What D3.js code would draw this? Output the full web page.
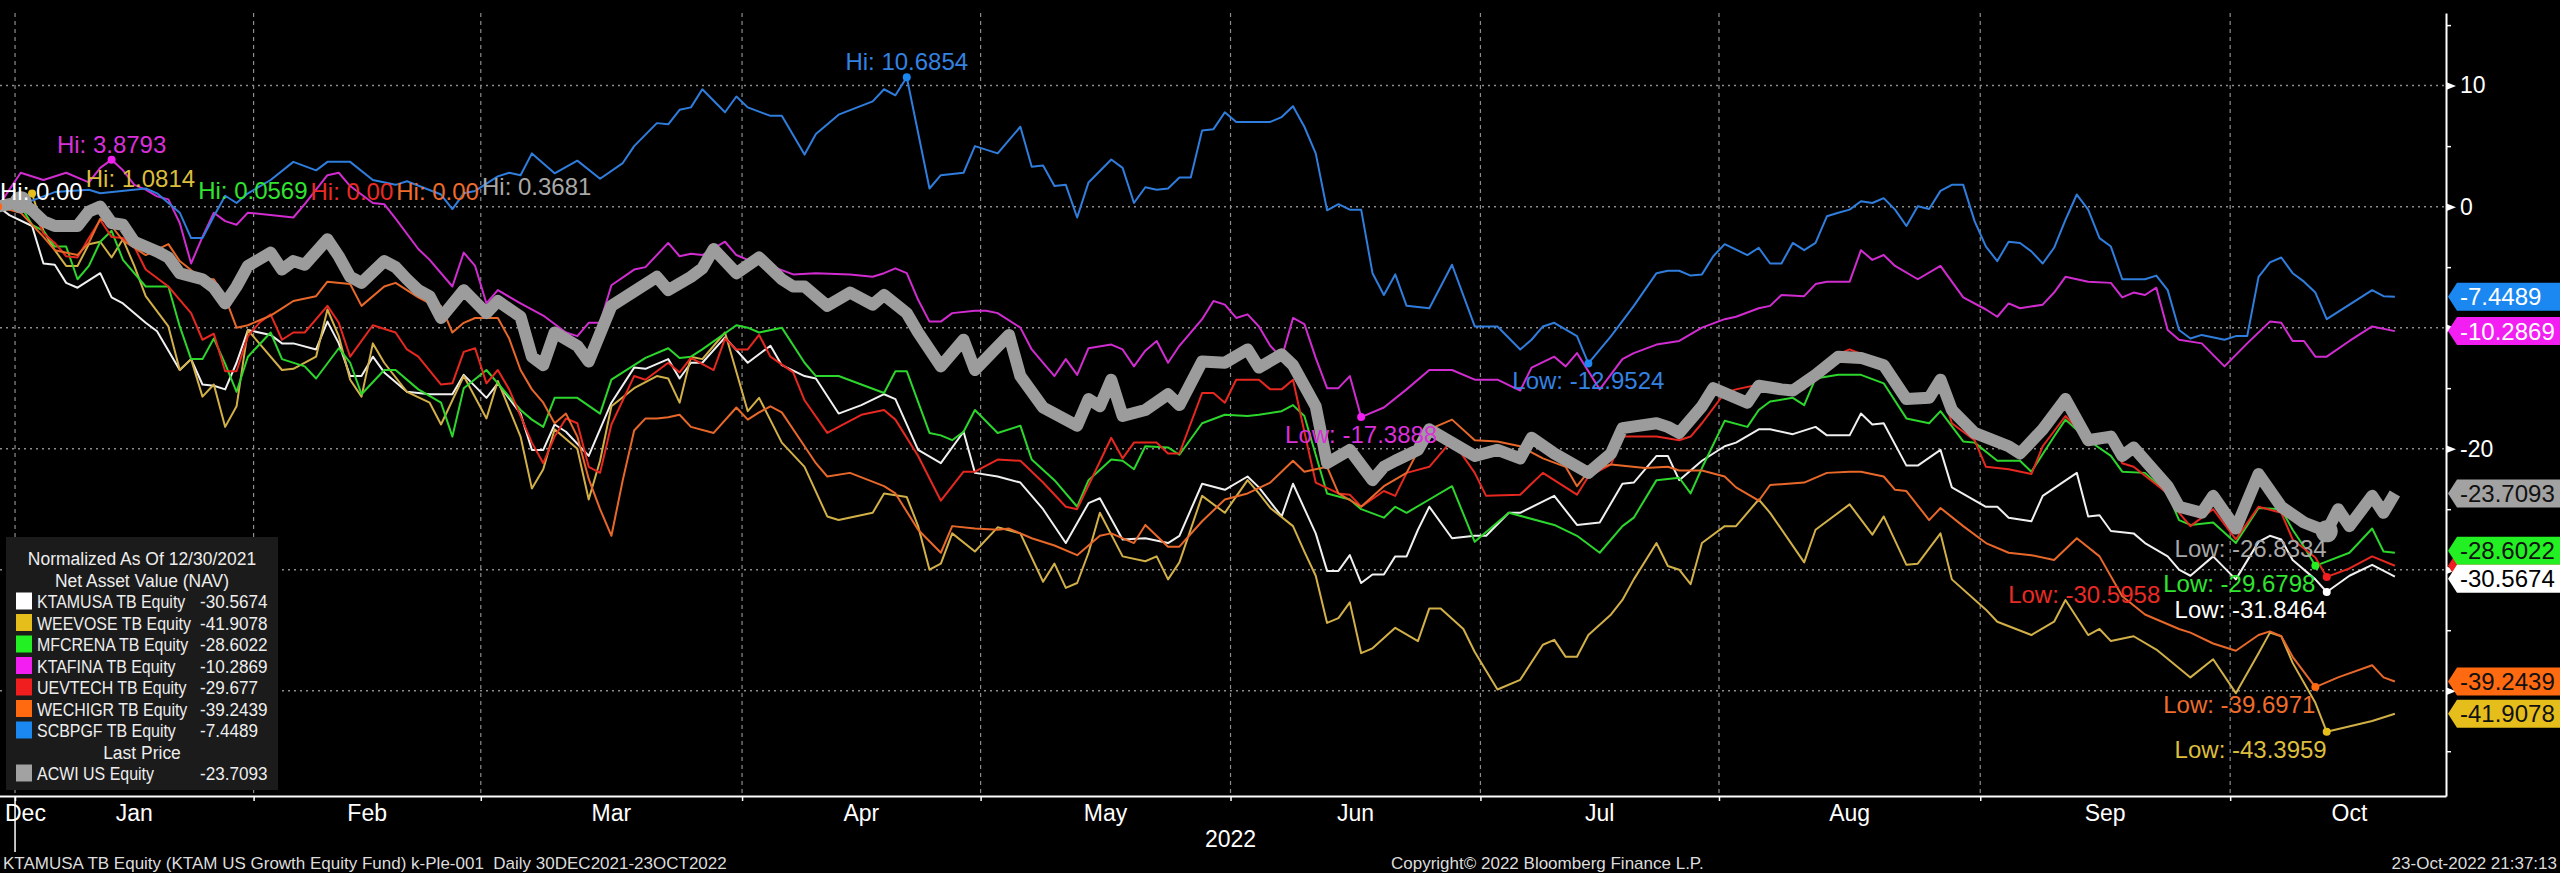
<!DOCTYPE html>
<html>
<head>
<meta charset="utf-8">
<script src="https://cdn.jsdelivr.net/npm/d3@7"></script>
<style>
  html, body { margin: 0; padding: 0; background: #000; }
  svg { display: block; }
  text { font-family: "Liberation Sans", Arial, sans-serif; }
</style>
</head>
<body>
<svg id="chart" width="2560" height="873"></svg>
<script>
// day = trading day (weekdays) counted from 30 Dec 2021 = 0
var monthNames = ['Dec', 'Jan', 'Feb', 'Mar', 'Apr', 'May', 'Jun', 'Jul', 'Aug', 'Sep', 'Oct'];
var monthStart = [-21, 2, 23, 43, 66, 87, 109, 131, 152, 175, 197, 218];
var yMajor = [10, 0, -10, -20, -30, -40];
var yMinor = [15, 5, -5, -15, -25, -35, -45];

var seriesNames = ['KTAMUSA TB Equity', 'WEEVOSE TB Equity', 'MFCRENA TB Equity', 'KTAFINA TB Equity',
  'UEVTECH TB Equity', 'WECHIGR TB Equity', 'SCBPGF TB Equity', 'ACWI US Equity'];
var lastVals = [-30.5674, -41.9078, -28.6022, -10.2869, -29.677, -39.2439, -7.4489, -23.7093];
var hiVals = [0, 1.0814, 0.0569, 3.8793, 0, 0, 10.6854, 0.3681];
var loVals = [-31.8464, -43.3959, -29.6798, -17.3888, -30.5958, -39.6971, -12.9524, -26.8334];

var ktamusa = [[0,0],[1,-0.7],[3,-1.6],[4,-4.7],[5,-4.8],[6,-6.3],[7,-6.7],[9,-5.5],[10,-7.5],[11,-8.0],[13,-9.6],[14,-10.3],[16,-13.5],[17,-12.6],[18,-14.7],[19,-14.8],[20,-15.1],[21,-12.9],[22,-10.2],[24,-10.6],[25,-11.3],[26,-11.3],[28,-11.8],[29,-9.5],[30,-11.3],[31,-14.0],[32,-14.0],[33,-12.4],[34,-13.7],[36,-15.3],[38,-15.5],[40,-15.5],[41,-13.9],[43,-15.8],[44,-14.6],[46,-17.1],[47,-20.1],[48,-20.1],[49,-18.0],[50,-18.6],[52,-20.6],[54,-16.2],[56,-13.3],[57,-13.4],[59,-12.6],[60,-14.2],[61,-12.9],[62,-12.9],[64,-10.8],[66,-12.9],[68,-11.5],[69,-13.1],[71,-14.0],[72,-14.2],[74,-17.1],[76,-16.4],[78,-15.5],[79,-15.9],[81,-20.1],[83,-21.2],[85,-18.6],[86,-22.0],[88,-22.3],[90,-22.8],[92,-25.0],[94,-27.8],[96,-24.5],[97,-24.1],[99,-27.5],[101,-27.4],[103,-27.8],[104,-27.2],[106,-22.9],[108,-23.4],[110,-22.3],[111,-23.2],[113,-25.6],[114,-22.9],[116,-27.0],[117,-30.1],[118,-30.1],[119,-28.8],[120,-31.1],[121,-30.4],[122,-30.4],[123,-28.9],[124,-28.9],[125,-26.7],[126,-24.8],[128,-27.4],[130,-27.2],[131,-27.2],[133,-25.3],[134,-25.3],[137,-23.9],[139,-26.3],[141,-26.1],[143,-22.9],[144,-22.8],[146,-20.6],[147,-20.6],[148,-22.6],[150,-21.0],[152,-19.8],[153,-19.5],[155,-18.4],[156,-18.4],[158,-18.8],[160,-18.2],[161,-18.9],[163,-18.9],[164,-17.1],[165,-18.0],[166,-17.9],[168,-21.4],[169,-21.4],[171,-20.1],[172,-23.2],[175,-24.8],[176,-24.8],[177,-25.7],[179,-26.0],[180,-23.9],[183,-22.0],[184,-25.6],[185,-25.5],[186,-26.8],[188,-27.0],[189,-27.8],[191,-28.9],[192,-30.0],[193,-30.5],[195,-28.9],[197,-30.8],[199,-27.7],[200,-27.2],[201,-27.5],[202,-29.2],[204,-30.8],[205,-31.8464],[207,-30.5],[209,-29.6],[211,-30.5674]];

var weevose = [[0,0],[2,0.4],[3,1.0814],[4,-2.0],[5,-3.6],[6,-4.9],[7,-4.9],[8,-3.1],[9,-2.9],[10,-4.2],[11,-2.7],[12,-4.9],[13,-7.4],[15,-9.9],[16,-13.5],[17,-12.6],[18,-15.7],[19,-14.7],[20,-18.2],[21,-16.5],[22,-10.2],[23,-11.3],[25,-13.5],[26,-13.4],[28,-12.4],[29,-8.5],[30,-10.7],[31,-14.3],[32,-15.7],[33,-11.3],[34,-12.9],[36,-15.3],[38,-16.2],[39,-18.0],[41,-14.0],[43,-17.5],[44,-14.4],[46,-19.0],[47,-23.3],[48,-21.7],[49,-18.4],[51,-20.0],[52,-24.2],[53,-21.0],[54,-16.5],[56,-15.0],[58,-14.0],[59,-14.2],[60,-16.2],[61,-12.4],[62,-12.6],[64,-10.4],[66,-16.9],[67,-15.8],[69,-19.5],[71,-21.5],[73,-25.6],[74,-25.9],[77,-25.3],[78,-23.7],[80,-24.0],[81,-26.4],[82,-30.0],[83,-29.5],[84,-27.0],[86,-28.5],[88,-26.5],[90,-27.0],[92,-31.0],[93,-29.5],[94,-31.5],[95,-31.1],[96,-28.6],[97,-25.3],[99,-28.9],[101,-29.3],[102,-28.9],[103,-30.8],[104,-29.4],[106,-23.9],[108,-25.3],[110,-22.6],[111,-23.7],[112,-24.9],[114,-26.4],[115,-28.5],[116,-30.5],[117,-34.4],[118,-34.0],[119,-32.7],[120,-36.9],[121,-36.5],[123,-34.8],[125,-35.9],[126,-33.2],[127,-33.2],[129,-34.9],[130,-36.8],[132,-39.9],[134,-39.1],[136,-36.2],[137,-35.8],[138,-37.2],[139,-37.2],[140,-35.4],[142,-33.7],[143,-32.5],[144,-30.8],[146,-27.8],[147,-29.7],[148,-30.0],[149,-31.2],[150,-27.8],[152,-26.4],[153,-26.4],[155,-24.2],[156,-25.3],[159,-29.4],[160,-26.7],[163,-24.6],[165,-27.1],[166,-25.6],[168,-29.6],[169,-29.5],[171,-27.0],[172,-30.8],[175,-33.3],[176,-34.3],[179,-35.4],[181,-34.3],[182,-32.5],[184,-35.4],[185,-34.9],[186,-35.9],[188,-35.5],[190,-36.6],[193,-38.9],[195,-37.4],[197,-40.2],[199,-36.9],[200,-35.2],[201,-35.5],[202,-37.7],[204,-41.0],[205,-43.3959],[209,-42.5],[211,-41.9078]];

var mfcrena = [[0,0],[2,0.0569],[3,-1.5],[4,-2.0],[5,-3.3],[6,-3.3],[7,-6.0],[8,-4.9],[9,-2.9],[10,-2.0],[11,-4.4],[13,-6.6],[15,-6.6],[16,-9.9],[17,-12.6],[18,-12.6],[19,-10.9],[20,-13.0],[21,-15.3],[22,-12.4],[24,-10.4],[25,-12.6],[27,-13.2],[28,-14.2],[30,-11.7],[31,-12.9],[32,-15.5],[34,-13.5],[35,-13.5],[37,-15.1],[39,-16.2],[40,-19.0],[41,-15.0],[43,-13.5],[44,-14.6],[46,-16.8],[47,-17.6],[48,-18.2],[49,-15.8],[51,-15.8],[53,-17.1],[54,-14.3],[56,-13.1],[57,-12.5],[59,-11.7],[60,-12.5],[61,-12.4],[62,-11.8],[65,-9.8],[66,-10.0],[67,-10.4],[69,-10.0],[71,-12.9],[72,-14.0],[74,-14.0],[78,-15.4],[79,-13.6],[80,-13.6],[82,-18.7],[83,-18.9],[84,-19.3],[85,-18.6],[86,-16.8],[88,-18.7],[90,-18.1],[91,-20.9],[93,-22.6],[95,-24.8],[96,-22.6],[98,-20.9],[99,-21.0],[100,-21.7],[101,-19.8],[103,-19.9],[104,-20.5],[106,-17.9],[108,-17.2],[110,-17.3],[111,-17.2],[113,-16.9],[114,-16.4],[115,-17.3],[117,-23.7],[119,-24.2],[120,-25.0],[122,-25.7],[123,-24.8],[124,-25.3],[126,-24.2],[128,-23.1],[130,-27.7],[133,-25.3],[137,-26.3],[139,-27.2],[141,-28.6],[143,-26.4],[144,-25.7],[146,-22.6],[148,-22.4],[149,-23.7],[150,-21.6],[152,-17.7],[154,-18.2],[155,-16.8],[156,-16.1],[158,-15.8],[159,-16.4],[160,-14.2],[162,-13.9],[164,-13.9],[166,-14.6],[168,-17.5],[170,-17.9],[171,-16.9],[173,-19.4],[174,-19.5],[176,-21.0],[178,-21.0],[179,-21.9],[181,-19.0],[182,-17.6],[184,-19.3],[186,-20.6],[187,-21.9],[189,-22.0],[191,-23.7],[192,-25.9],[193,-26.3],[195,-26.1],[197,-27.8],[199,-24.9],[201,-25.0],[202,-26.7],[203,-28.1],[204,-29.6798],[207,-28.6],[209,-26.6],[210,-28.5],[211,-28.6022]];

var ktafina = [[0,0],[2,2.8],[4,2.2],[6,2.8],[8,2.0],[9,3.2],[10,3.8793],[11,3.0],[12,1.8],[13,1.4],[14,0.85],[15,0.6],[16,-1.35],[17,-4.7],[18,-2.5],[19,-0.5],[20,-1.2],[21,-1.5],[22,-0.5],[25,-0.8],[26,-0.9],[27,0.2],[29,2.6],[30,2.8],[31,1.7],[33,0.3],[34,0.2],[35,-1.0],[37,-3.5],[38,-4.4],[40,-6.6],[41,-3.8],[42,-4.9],[43,-8.0],[44,-6.9],[46,-8.0],[48,-9.0],[50,-10.4],[51,-10.7],[52,-9.6],[53,-9.6],[54,-6.5],[56,-5.2],[57,-5.0],[59,-3.0],[60,-4.1],[61,-3.9],[62,-4.0],[64,-2.9],[65,-4.0],[66,-4.4],[68,-4.9],[70,-5.6],[72,-5.5],[75,-5.6],[77,-5.8],[78,-5.5],[79,-5.1],[80,-5.5],[81,-7.7],[82,-9.5],[83,-9.5],[84,-8.8],[86,-8.6],[87,-8.6],[88,-8.8],[90,-10.0],[91,-11.8],[93,-14.0],[94,-12.6],[95,-13.9],[96,-11.7],[98,-11.4],[99,-11.8],[100,-13.2],[101,-11.9],[102,-11.1],[103,-12.9],[104,-11.5],[106,-9.3],[107,-7.8],[108,-8.1],[109,-9.2],[110,-8.9],[111,-9.9],[112,-11.5],[113,-12.5],[114,-9.2],[115,-9.7],[116,-12.5],[117,-15.0],[118,-15.0],[119,-14.0],[120,-17.3888],[122,-16.6],[124,-15.1],[126,-13.5],[128,-13.5],[130,-14.3],[132,-14.3],[134,-15.2],[135,-13.3],[137,-12.4],[138,-13.2],[139,-12.1],[141,-15.1],[143,-12.6],[144,-12.1],[146,-11.4],[148,-11.1],[150,-10.0],[152,-9.3],[153,-9.1],[155,-8.4],[156,-8.2],[157,-7.3],[159,-7.4],[160,-6.4],[161,-6.2],[163,-6.2],[164,-3.6],[165,-4.4],[166,-4.0],[167,-4.9],[169,-6.0],[171,-4.9],[173,-7.5],[175,-8.5],[176,-9.1],[177,-8.0],[178,-8.4],[180,-8.1],[181,-7.1],[182,-5.8],[184,-6.2],[186,-6.3],[187,-7.5],[188,-7.1],[189,-7.3],[190,-6.7],[191,-10.2],[192,-11.0],[194,-11.3],[196,-13.2],[198,-11.3],[200,-9.5],[201,-9.6],[202,-11.1],[203,-11.1],[204,-12.4],[205,-12.4],[207,-11.1],[209,-9.9],[211,-10.2869]];

var uevtech = [[0,0],[3,-0.1],[4,-2.2],[5,-3.0],[6,-4.1],[7,-4.2],[8,-2.6],[9,-1.1],[10,-2.5],[11,-2.6],[12,-3.3],[13,-5.2],[15,-6.6],[16,-7.7],[17,-8.8],[18,-11.0],[19,-10.5],[20,-13.6],[21,-13.6],[22,-10.7],[23,-9.6],[24,-8.9],[25,-11.0],[26,-10.4],[27,-10.4],[29,-8.2],[30,-9.6],[31,-12.4],[33,-9.8],[35,-10.4],[36,-11.8],[37,-12.4],[39,-14.7],[40,-14.6],[41,-12.0],[42,-11.7],[43,-14.6],[44,-13.5],[45,-15.1],[47,-19.5],[48,-21.2],[49,-19.0],[50,-17.5],[51,-17.9],[52,-21.5],[53,-22.0],[54,-18.0],[56,-14.0],[57,-14.3],[59,-12.9],[60,-13.7],[61,-12.5],[63,-13.5],[64,-10.9],[65,-11.8],[66,-11.8],[67,-10.6],[68,-12.4],[70,-13.7],[71,-16.0],[73,-18.7],[74,-18.2],[76,-17.2],[78,-16.8],[79,-17.6],[81,-20.6],[83,-24.3],[85,-21.9],[86,-21.9],[88,-20.9],[90,-21.0],[92,-22.8],[94,-24.8],[95,-25.0],[98,-19.1],[99,-20.8],[100,-19.5],[102,-19.5],[103,-20.4],[104,-20.4],[106,-15.4],[107,-15.4],[108,-16.2],[109,-14.3],[111,-14.3],[112,-15.1],[113,-15.1],[114,-14.3],[115,-18.6],[116,-22.8],[118,-23.7],[119,-23.8],[120,-24.8],[122,-23.5],[123,-23.9],[124,-22.0],[126,-21.5],[128,-19.3],[130,-22.0],[131,-23.9],[134,-23.8],[136,-22.0],[138,-23.2],[139,-23.8],[140,-22.3],[142,-21.3],[143,-19.0],[146,-19.0],[148,-19.3],[149,-19.0],[150,-17.9],[152,-15.4],[153,-15.1],[155,-14.7],[157,-15.1],[159,-15.1],[160,-13.6],[162,-12.2],[163,-11.8],[166,-12.9],[168,-16.1],[170,-15.9],[171,-14.8],[172,-17.9],[174,-19.3],[175,-21.5],[177,-21.7],[179,-22.1],[180,-19.8],[182,-17.3],[184,-19.3],[186,-19.3],[187,-21.2],[188,-21.5],[191,-23.7],[192,-25.3],[193,-26.4],[195,-25.0],[197,-27.5],[199,-24.8],[201,-25.3],[202,-27.5],[204,-29.0],[205,-30.5958],[207,-29.9],[209,-28.9],[211,-29.677]];

var wechigr = [[0,0],[2,-0.5],[4,-2.5],[5,-3.6],[7,-4.0],[8,-3.0],[9,-1.0],[10,-1.6],[11,-2.8],[13,-4.0],[15,-3.1],[16,-4.5],[18,-6.0],[19,-6.0],[20,-7.5],[21,-10.0],[22,-9.8],[24,-9.0],[25,-8.4],[26,-7.8],[28,-7.4],[29,-6.2],[31,-6.4],[32,-8.2],[34,-6.6],[35,-6.3],[37,-7.5],[38,-8.0],[39,-8.2],[40,-10.4],[41,-9.6],[42,-9.2],[44,-9.2],[45,-10.9],[46,-13.5],[47,-15.1],[48,-16.2],[49,-17.9],[50,-17.1],[51,-19.0],[52,-22.5],[53,-25.0],[54,-27.2],[55,-22.6],[56,-18.5],[57,-17.5],[58,-17.5],[59,-17.4],[60,-17.2],[61,-18.2],[63,-18.7],[65,-16.6],[66,-17.6],[67,-17.0],[68,-16.5],[69,-17.0],[71,-19.8],[72,-21.2],[73,-22.3],[75,-22.0],[78,-23.1],[79,-23.7],[81,-26.7],[83,-28.6],[84,-26.4],[86,-26.6],[88,-26.7],[89,-26.6],[91,-27.4],[93,-28.0],[95,-28.8],[97,-27.2],[98,-27.0],[100,-27.8],[101,-26.3],[103,-28.1],[104,-28.1],[106,-26.0],[108,-24.2],[110,-23.7],[112,-22.8],[114,-21.0],[115,-21.9],[117,-21.5],[118,-23.7],[120,-24.8],[122,-23.1],[124,-22.0],[126,-18.4],[128,-17.6],[130,-19.3],[132,-19.4],[134,-19.8],[136,-20.8],[138,-21.5],[139,-23.1],[140,-21.9],[142,-21.3],[145,-21.6],[147,-21.5],[148,-21.8],[150,-21.8],[152,-22.3],[153,-23.2],[155,-24.3],[156,-23.0],[159,-22.8],[161,-22.0],[163,-21.9],[164,-21.9],[166,-22.3],[167,-23.4],[168,-23.5],[170,-25.9],[171,-24.9],[173,-26.4],[175,-27.8],[177,-28.6],[179,-28.8],[181,-29.2],[183,-27.4],[185,-28.9],[187,-32.2],[189,-33.7],[192,-34.9],[193,-35.2],[195,-36.1],[197,-36.7],[199,-35.4],[200,-35.1],[201,-35.5],[202,-37.2],[204,-39.6971],[206,-38.9],[209,-37.9],[210,-38.9],[211,-39.2439]];

var scbpgf = [[0,0],[3,0.5],[5,1.2],[8,1.4],[9,1.1],[13,1.5],[14,1.1],[15,0.3],[16,-0.5],[17,-2.6],[18,-2.6],[19,-0.8],[20,0.9],[21,0.3],[22,1.1],[24,2.2],[26,3.7],[28,3.0],[29,3.7],[31,3.7],[33,2.2],[35,1.8],[36,2.1],[39,1.0],[40,-0.2],[41,1.1],[42,1.3],[44,2.5],[45,2.8],[46,2.6],[47,4.4],[49,2.75],[51,3.8],[53,2.3],[55,3.6],[56,5.0],[58,6.9],[59,6.8],[60,8.0],[61,8.2],[62,9.7],[64,7.8],[65,9.1],[66,8.2],[68,7.5],[69,7.5],[71,4.3],[72,6.0],[74,7.6],[77,8.7],[78,9.7],[79,9.2],[80,10.6854],[82,1.5],[83,2.6],[85,2.8],[86,5.0],[88,4.4],[90,6.6],[91,3.3],[92,3.4],[93,1.7],[94,1.8],[95,-0.9],[96,2.0],[98,3.9],[99,3.2],[100,0.3],[101,1.6],[102,1.4],[103,1.5],[104,2.4],[105,2.4],[106,6.3],[107,6.4],[108,7.8],[109,7.0],[112,7.0],[113,7.4],[114,8.3],[115,6.6],[116,4.4],[117,-0.3],[118,0.2],[119,-0.25],[120,-0.25],[121,-5.5],[122,-7.3],[123,-5.6],[124,-8.2],[126,-8.4],[128,-4.8],[130,-9.9],[132,-9.9],[134,-11.8],[135,-11.0],[136,-9.9],[137,-9.6],[139,-10.7],[140,-12.9524],[142,-10.7],[144,-8.2],[146,-5.5],[147,-5.3],[148,-5.3],[149,-5.7],[150,-5.6],[151,-4.1],[152,-3.1],[154,-4.0],[155,-3.4],[156,-4.7],[157,-4.7],[158,-3.0],[159,-3.6],[160,-3.0],[161,-0.8],[162,-0.5],[163,-0.25],[164,0.44],[165,0.3],[166,0.7],[167,-0.25],[168,-1.6],[169,0.03],[170,-0.2],[171,1.3],[172,1.8],[173,1.8],[174,-1.2],[175,-3.3],[176,-4.5],[177,-2.9],[178,-3.0],[179,-3.7],[180,-4.7],[181,-3.4],[182,-1.1],[183,1.0],[184,-0.25],[185,-2.6],[186,-3.3],[187,-6.0],[189,-6.0],[190,-5.7],[191,-6.9],[192,-10.2],[193,-10.9],[194,-10.6],[196,-11.0],[197,-10.7],[198,-10.7],[199,-5.8],[200,-4.6],[201,-4.2],[202,-5.5],[203,-6.2],[204,-7.1],[205,-9.3],[207,-8.1],[209,-6.9],[210,-7.4],[211,-7.4489]];

var acwi = [[0,0],[1,0.2],[2,0.3681],[3,-0.3],[4,-1.2],[5,-1.6],[7,-1.6],[8,-0.4],[9,0.0],[10,-1.35],[11,-1.5],[12,-2.9],[14,-3.7],[15,-4.2],[16,-5.5],[18,-6.0],[19,-6.7],[20,-8.0],[21,-6.6],[22,-4.9],[24,-3.8],[25,-5.2],[26,-4.5],[27,-4.8],[29,-2.7],[30,-4.1],[31,-5.8],[32,-6.3],[34,-4.5],[35,-5.0],[36,-6.0],[37,-6.9],[38,-7.4],[39,-9.2],[41,-6.9],[43,-8.8],[44,-7.8],[46,-9.1],[47,-12.4],[48,-13.1],[49,-10.4],[51,-11.5],[52,-12.8],[54,-8.2],[56,-7.0],[57,-6.4],[58,-5.8],[59,-6.9],[61,-5.8],[62,-5.1],[63,-3.5],[65,-5.5],[67,-4.2],[69,-6.0],[70,-6.6],[71,-6.6],[73,-8.2],[75,-7.1],[77,-8.1],[78,-7.3],[80,-8.8],[81,-10.4],[83,-13.2],[85,-11.0],[86,-13.5],[89,-10.6],[90,-14.0],[92,-16.6],[95,-18.1],[96,-15.9],[97,-16.5],[98,-14.3],[99,-17.3],[101,-16.8],[103,-15.5],[104,-16.4],[106,-12.8],[108,-12.9],[110,-11.8],[111,-13.3],[113,-12.2],[114,-13.1],[116,-16.5],[117,-21.2],[119,-20.1],[121,-22.6],[122,-21.5],[123,-21.0],[125,-20.1],[126,-18.4],[128,-19.5],[130,-20.6],[132,-20.1],[134,-20.8],[135,-19.1],[137,-20.4],[140,-22.0],[142,-20.4],[143,-18.3],[146,-17.9],[147,-18.2],[148,-18.7],[150,-16.5],[151,-15.0],[154,-16.2],[155,-14.8],[157,-15.1],[158,-15.2],[160,-13.9],[162,-12.4],[164,-12.5],[166,-13.1],[168,-15.9],[170,-15.8],[171,-14.3],[172,-16.8],[174,-18.7],[177,-19.8],[178,-20.4],[180,-18.4],[182,-15.9],[184,-19.3],[186,-19.0],[187,-20.6],[188,-19.9],[191,-23.1],[192,-24.8],[194,-25.3],[195,-23.9],[197,-26.6],[199,-22.1],[201,-24.8],[203,-26.1],[205,-26.8334],[206,-25.0],[207,-26.4],[209,-23.9],[210,-25.3],[211,-23.7093]];

var seriesData = [ktamusa, weevose, mfcrena, ktafina, uevtech, wechigr, scbpgf, acwi];

var lineColors = ['#f0f0f0', '#d2b048', '#2cd62c', '#d02cd0', '#e62820', '#e8682a', '#2f7ddc', '#9c9c9c'];
var labelColors = ['#ffffff', '#dcbe3c', '#30e430', '#da30da', '#ea2a24', '#ee6c2c', '#3482e2', '#a8a8a8'];
var tagColors = ['#ffffff', '#e6be1c', '#22f022', '#f21ef2', '#f01e1e', '#ff6a10', '#1a88f0', '#a2a2a2'];
var tagText = ['#000', '#111', '#111', '#fff', '#fff', '#111', '#fff', '#111'];

var svg = d3.select('#chart');
var plotR = 2446, plotT = 13, plotB = 796;

var x = d3.scaleLinear().domain([0, 215.5]).range([-2, plotR]);
var y = d3.scaleLinear().domain([-48.7, 16.0]).range([plotB, plotT]);

svg.append('rect').attr('width', 2560).attr('height', 873).attr('fill', '#000');

svg.append('defs').append('clipPath').attr('id', 'plotclip')
  .append('rect').attr('x', 0).attr('y', plotT).attr('width', plotR).attr('height', plotB - plotT);

// grid
var boundaries = monthStart.slice(1, 11).map(function(d) { return d - 0.5; });
var grid = svg.append('g');
grid.selectAll('.hg').data(yMajor).enter().append('line')
  .attr('x1', 0).attr('x2', plotR)
  .attr('y1', function(d) { return y(d); }).attr('y2', function(d) { return y(d); })
  .attr('stroke', '#8c8c8c').attr('stroke-width', 1.5).attr('stroke-dasharray', '2,4');
grid.selectAll('.vg').data(boundaries).enter().append('line')
  .attr('x1', function(d) { return x(d); }).attr('x2', function(d) { return x(d); })
  .attr('y1', plotT).attr('y2', plotB)
  .attr('stroke', '#8c8c8c').attr('stroke-width', 1.2).attr('stroke-dasharray', '4,4');

// lines
var line = d3.line()
  .x(function(d) { return x(d[0]); })
  .y(function(d) { return y(d[1]); });

var lines = svg.append('g').attr('clip-path', 'url(#plotclip)');
seriesData.forEach(function(s, i) {
  lines.append('path')
    .datum(s)
    .attr('fill', 'none')
    .attr('stroke', lineColors[i])
    .attr('stroke-width', i === 7 ? 12 : 2)
    .attr('stroke-linejoin', 'round')
    .attr('d', line);
});

// hi / low markers and labels
function fmt(v) { return v === 0 ? '0.00' : String(v); }

var placed = [];
function placeLabel(lbl) {
  var moved = true, guard = 0;
  while (moved && guard++ < 30) {
    moved = false;
    placed.forEach(function(p) {
      var vOver = Math.abs(p.y - lbl.y) < 18;
      var hOver = lbl.x0 < p.x1 + 3 && p.x0 < lbl.x1 + 3;
      if (vOver && hOver) {
        var w = lbl.x1 - lbl.x0;
        if (lbl.dir > 0) { lbl.x0 = p.x1 + 3; lbl.x1 = lbl.x0 + w; }
        else { lbl.x1 = p.x0 - 3; lbl.x0 = lbl.x1 - w; }
        moved = true;
      }
    });
  }
  placed.push(lbl);
}

var marks = svg.append('g');
var labelLayer = svg.append('g');

function addLabel(i, txt, px, baseline, mode) {
  var t = labelLayer.append('text')
    .attr('font-size', 24)
    .attr('fill', labelColors[i])
    .text(txt);
  var w = t.node().getComputedTextLength();
  var lbl;
  if (mode === 'end') lbl = { x0: px - w, x1: px, y: baseline, dir: -1 };
  else {
    var x0 = Math.max(0, px - w / 2);
    lbl = { x0: x0, x1: x0 + w, y: baseline, dir: 1 };
  }
  placeLabel(lbl);
  t.attr('x', lbl.x0).attr('y', lbl.y);
}

var hiPts = [], loPts = [];
seriesData.forEach(function(s, i) {
  hiPts.push(s[d3.maxIndex(s, function(d) { return d[1]; })]);
  loPts.push(s[d3.minIndex(s, function(d) { return d[1]; })]);
});

seriesData.forEach(function(s, i) {
  [hiPts[i], loPts[i]].forEach(function(p) {
    marks.append('circle')
      .attr('cx', x(p[0])).attr('cy', y(p[1]))
      .attr('r', i === 7 ? 11 : 4)
      .attr('fill', i === 7 ? lineColors[i] : tagColors[i]);
  });
});

seriesData.forEach(function(s, i) {
  addLabel(i, 'Hi: ' + fmt(hiVals[i]), x(hiPts[i][0]), y(hiPts[i][1]) - 7, 'middle');
});
seriesData.forEach(function(s, i) {
  var px = x(loPts[i][0]);
  addLabel(i, 'Low: ' + fmt(loVals[i]), px, y(loPts[i][1]) + 26, px > 0.9 * plotR ? 'end' : 'middle');
});

// x axis
var xAxis = d3.axisBottom(x).tickValues(boundaries).tickSize(5).tickSizeOuter(0).tickFormat('');
var gx = svg.append('g').attr('transform', 'translate(0,' + plotB + ')').call(xAxis);
gx.select('.domain').attr('stroke', '#fff').attr('stroke-width', 2);
gx.selectAll('.tick line').attr('stroke', '#fff').attr('stroke-width', 1.5);
svg.append('line')
  .attr('x1', x(boundaries[0])).attr('x2', x(boundaries[0]))
  .attr('y1', plotB).attr('y2', 852)
  .attr('stroke', '#fff').attr('stroke-width', 1.5);

monthNames.forEach(function(m, i) {
  var a = x(monthStart[i] - 0.5), b = x(monthStart[i + 1] - 0.5);
  var cx = (a + b) / 2;
  var t = svg.append('text').attr('y', 821).attr('font-size', 23).attr('fill', '#fff').text(m);
  if (cx - 20 < 5) t.attr('x', 5).attr('text-anchor', 'start');
  else t.attr('x', cx).attr('text-anchor', 'middle');
});
svg.append('text')
  .attr('x', (x(boundaries[0]) + plotR) / 2).attr('y', 847)
  .attr('text-anchor', 'middle').attr('font-size', 23).attr('fill', '#fff')
  .text('2022');

// last value tags: positions first, so tick labels hidden under a tag can be left out
var tagY = lastVals.map(function(v) { return y(v); });
var order = d3.range(8).filter(function(i) { return i !== 4; })
  .sort(function(a, b) { return tagY[a] - tagY[b]; });
for (var pass = 0; pass < 10; pass++) {
  for (var k = 1; k < order.length; k++) {
    var a = order[k - 1], b = order[k];
    var gap = tagY[b] - tagY[a];
    if (gap < 28) { tagY[a] -= (28 - gap) / 2; tagY[b] += (28 - gap) / 2; }
  }
}

// y axis
var shownTicks = yMajor.filter(function(d) {
  return !tagY.some(function(t) { return Math.abs(t - y(d)) < 14; });
});
var gy = svg.append('g').attr('transform', 'translate(' + plotR + ',0)')
  .call(d3.axisRight(y).tickValues(yMajor).tickSize(0).tickSizeOuter(0).tickPadding(14)
    .tickFormat(function(d) { return shownTicks.indexOf(d) >= 0 ? String(d) : ''; }));
gy.select('.domain').attr('stroke', '#fff').attr('stroke-width', 2);
gy.selectAll('.tick text').attr('fill', '#fff').attr('font-size', 23)
  .attr('font-family', '"Liberation Sans", Arial, sans-serif');
gy.selectAll('.tick').append('path')
  .attr('d', 'M0,-4L10,0L0,4Z').attr('fill', '#fff');

var gyMinor = svg.append('g').attr('transform', 'translate(' + plotR + ',0)')
  .call(d3.axisRight(y).tickValues(yMinor).tickSize(5).tickFormat(''));
gyMinor.select('.domain').remove();
gyMinor.selectAll('.tick line').attr('stroke', '#fff').attr('stroke-width', 1.5);

var tags = svg.append('g');
[4].concat(order).forEach(function(i) {
  var c = tagY[i];
  tags.append('path')
    .attr('d', 'M' + (plotR + 2) + ',' + c + 'L' + (plotR + 11) + ',' + (c - 14) + 'L2570,' + (c - 14) +
      'L2570,' + (c + 14) + 'L' + (plotR + 11) + ',' + (c + 14) + 'Z')
    .attr('fill', tagColors[i]);
  if (i === 4) return; // UEVTECH tag sits under the MFCRENA / KTAMUSA tags
  tags.append('text')
    .attr('x', plotR + 14).attr('y', c + 8.5)
    .attr('font-size', 24).attr('fill', tagText[i])
    .text(String(lastVals[i]));
});

// legend
var lg = svg.append('g');
lg.append('rect').attr('x', 6).attr('y', 537).attr('width', 272).attr('height', 253).attr('fill', '#1b1b1b');
var rows = [
  { head: 'Normalized As Of 12/30/2021' },
  { head: 'Net Asset Value (NAV)' },
  { s: 0 }, { s: 1 }, { s: 2 }, { s: 3 }, { s: 4 }, { s: 5 }, { s: 6 },
  { head: 'Last Price' },
  { s: 7 }
];
// the terminal font is narrow: squeeze Liberation Sans horizontally
function legendText(tx, ty, f, anchor, str) {
  return lg.append('text')
    .attr('transform', 'translate(' + tx + ',' + ty + ') scale(' + f + ',1)')
    .attr('text-anchor', anchor)
    .attr('font-size', 19).attr('fill', '#eee')
    .text(str);
}
rows.forEach(function(r, k) {
  var c = 558 + k * 21.5;
  if (r.head) {
    legendText(142, c + 7, 0.92, 'middle', r.head);
  } else {
    lg.append('rect').attr('x', 16).attr('y', c - 8.5).attr('width', 16).attr('height', 17)
      .attr('fill', tagColors[r.s]);
    legendText(37, c + 7, 0.84, 'start', seriesNames[r.s]);
    legendText(200, c + 7, 0.9, 'start', String(lastVals[r.s]));
  }
});

// footer
svg.append('text').attr('x', 3).attr('y', 869).attr('font-size', 17).attr('fill', '#ddd')
  .attr('xml:space', 'preserve')
  .text('KTAMUSA TB Equity (KTAM US Growth Equity Fund) k-Ple-001  Daily 30DEC2021-23OCT2022');
svg.append('text').attr('x', 1391).attr('y', 869).attr('font-size', 17).attr('fill', '#ddd')
  .text('Copyright\u00a9 2022 Bloomberg Finance L.P.');
svg.append('text').attr('x', 2557).attr('y', 869).attr('font-size', 17).attr('fill', '#ddd')
  .attr('text-anchor', 'end').text('23-Oct-2022 21:37:13');
</script>
</body>
</html>
